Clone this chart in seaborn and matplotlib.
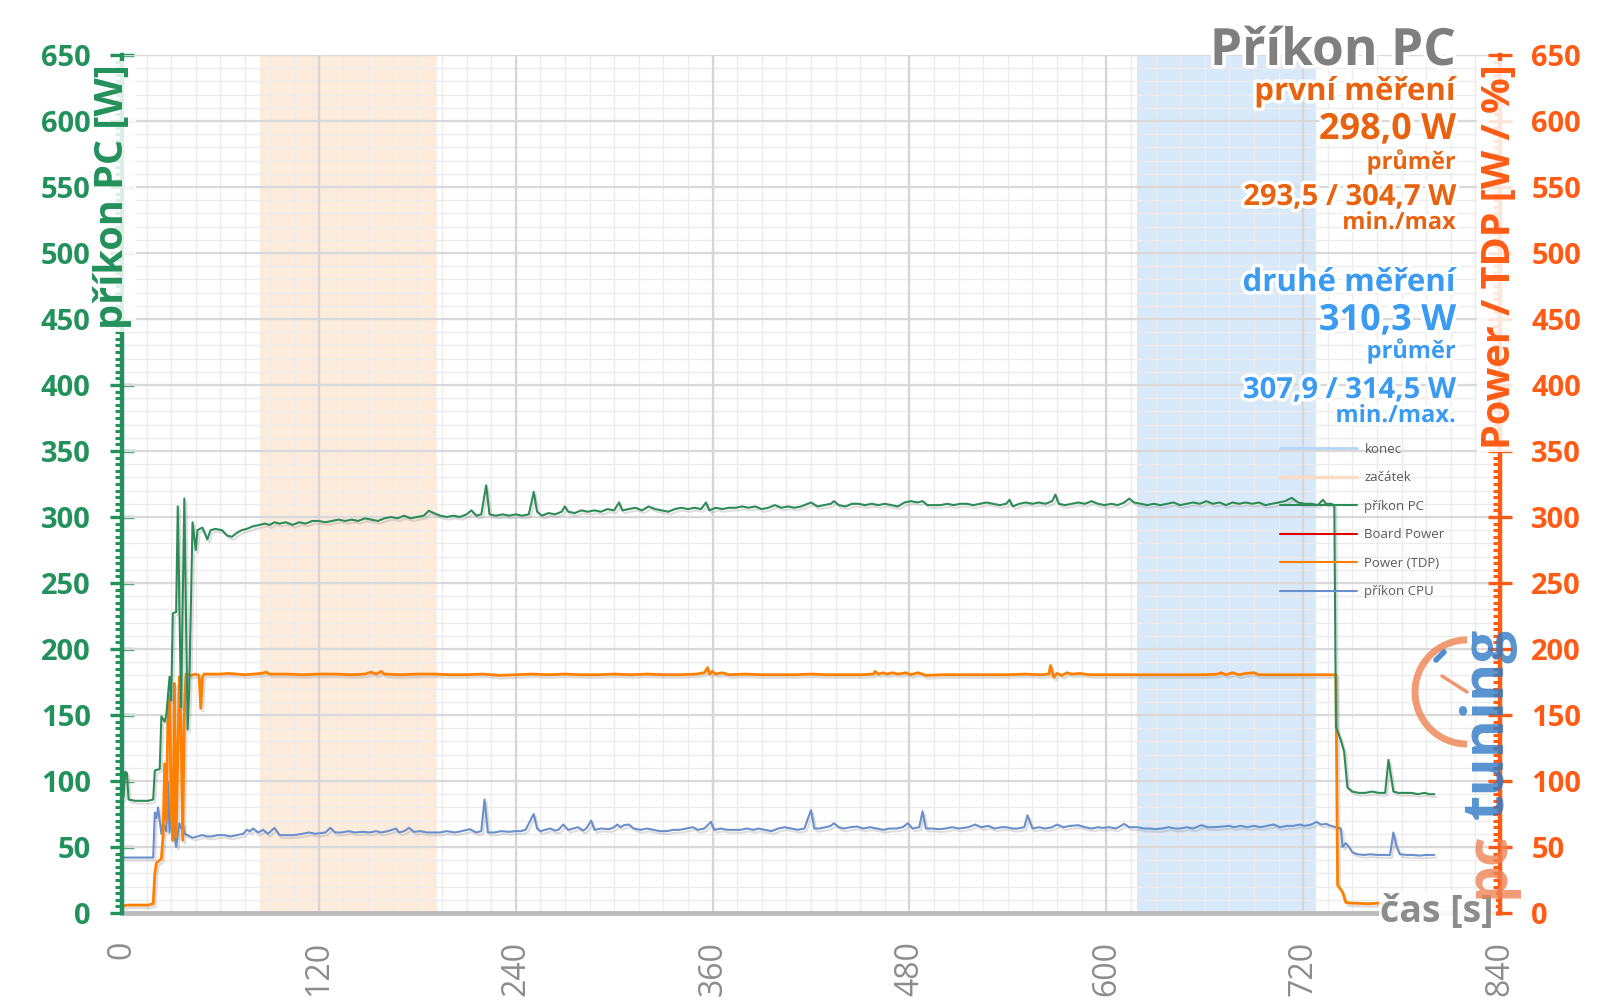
import numpy as np
import pandas as pd
import matplotlib
matplotlib.use("Agg")
import matplotlib.pyplot as plt
import seaborn as sns
from matplotlib.lines import Line2D
from matplotlib.patches import Arc
from matplotlib.ticker import MultipleLocator
import matplotlib.patheffects as pe

# ---------------- data ----------------
t_pc = [0, 1, 2, 3, 4, 8, 12, 16, 19, 20,
        23, 24, 26, 27, 29, 30, 31, 33, 34, 36,
        38, 40, 41, 43, 45, 46, 49, 52, 54, 57,
        61, 64, 67, 70, 73, 76, 80, 84, 87, 90,
        93, 96, 100, 104, 108, 112, 116, 120, 124, 128,
        132, 136, 140, 144, 148, 152, 156, 160, 164, 168,
        172, 176, 180, 184, 187, 190, 194, 198, 202, 206,
        210, 213, 216, 219, 222, 224, 228, 232, 236, 240,
        244, 248, 251, 253, 256, 260, 264, 268, 270, 272,
        276, 280, 284, 288, 292, 296, 300, 303, 305, 309,
        313, 317, 321, 325, 329, 333, 337, 341, 345, 349,
        353, 356, 358, 362, 366, 370, 374, 378, 382, 386,
        390, 394, 398, 402, 406, 410, 414, 418, 420, 424,
        428, 432, 434, 437, 441, 445, 449, 453, 457, 461,
        465, 469, 473, 477, 481, 485, 488, 491, 495, 499,
        503, 507, 511, 515, 519, 523, 527, 531, 535, 539,
        541, 543, 547, 551, 555, 559, 563, 567, 569, 571,
        575, 579, 583, 587, 591, 595, 599, 603, 607, 611,
        614, 617, 621, 625, 629, 633, 637, 641, 645, 649,
        653, 657, 661, 665, 669, 673, 677, 681, 685, 689,
        693, 697, 701, 705, 709, 713, 717, 721, 725, 729,
        732, 734, 737, 739, 740, 743, 745, 747, 750, 754,
        758, 762, 766, 770, 772, 773, 775, 778, 782, 786,
        790, 794, 797, 800]
pc = [86, 88, 107, 106, 86, 85, 85, 85, 86, 108,
      109, 149, 145, 150, 179, 161, 227, 228, 308, 156,
      314, 139, 171, 296, 275, 290, 292, 283, 290, 291,
      290, 286, 285, 288, 290, 291, 293, 294, 295, 294,
      296, 295, 296, 294, 296, 295, 297, 297, 296, 297,
      298, 297, 298, 297, 299, 298, 297, 299, 300, 299,
      301, 299, 300, 301, 304.7, 303, 301, 300, 301, 300,
      302, 305, 301, 302, 324, 302, 301, 302, 301, 302,
      301, 302, 319, 304, 301, 303, 302, 304, 308, 304,
      303, 305, 304, 305, 304, 306, 305, 311, 305, 306,
      307, 305, 308, 306, 305, 304, 306, 307, 306, 307,
      306, 311, 305, 307, 306, 307, 307, 308, 307, 308,
      306, 307, 309, 307, 308, 307, 308, 310, 311, 308,
      309, 310, 312, 309, 308, 310, 310, 309, 310, 309,
      310, 309, 308, 311, 312, 311, 312, 309, 309, 309,
      310, 309, 310, 310, 309, 310, 311, 310, 309, 310,
      313, 308, 310, 311, 310, 311, 310, 312, 317, 310,
      309, 310, 311, 310, 312, 310, 309, 310, 309, 311,
      314, 311, 310, 309, 310, 309, 310, 311, 309, 310,
      311, 310, 312, 310, 311, 309, 311, 310, 311, 310,
      311, 309, 310, 311, 312, 314.5, 311, 310, 310, 309,
      313, 310, 310, 309, 141, 131, 122, 95, 92, 91,
      91, 92, 91, 91, 116, 108, 92, 91, 91, 91,
      90, 91, 90, 90]

t_tdp = [0, 3, 8, 12, 16, 19, 20, 21, 23, 24,
         25, 26, 27, 28, 29, 30, 31, 32, 33, 34,
         35, 36, 37, 38, 39, 42, 45, 47, 48, 49,
         50, 55, 60, 65, 70, 75, 80, 85, 88, 90,
         95, 100, 110, 120, 130, 140, 148, 152, 155, 158,
         160, 170, 180, 190, 200, 210, 220, 230, 240, 250,
         260, 270, 280, 290, 300, 310, 320, 330, 340, 350,
         355, 357, 358, 360, 362, 366, 370, 380, 390, 400,
         410, 420, 430, 440, 450, 458, 459, 461, 464, 466,
         470, 473, 478, 481, 485, 488, 490, 500, 510, 520,
         530, 540, 550, 560, 565, 566, 568, 570, 573, 576,
         579, 584, 590, 600, 610, 620, 630, 640, 650, 660,
         668, 670, 673, 677, 681, 685, 690, 693, 700, 710,
         720, 730, 740, 741, 744, 746, 750, 760, 766, 773]
tdp = [5, 6, 6, 6, 6, 7, 30, 38, 40, 41,
       58, 113, 70, 150, 165, 80, 55, 174, 58, 120,
       179, 140, 55, 150, 181, 180, 181, 180, 155, 178,
       181, 181, 181, 181.5, 181, 180.5, 181, 181.5, 182.5, 181,
       181, 181, 180.5, 181, 181, 180.5, 181, 182.5, 181, 183,
       181, 180.5, 181, 181, 180.5, 180.5, 181, 180, 180.5, 181,
       180.5, 181, 180.5, 180.5, 181, 180.5, 181, 180.5, 180.5, 181,
       182, 186, 181, 183, 181, 182, 180.5, 181, 180.5, 180.5,
       180.5, 181, 180.5, 180.5, 180.5, 181, 183, 181, 182, 181,
       182, 181, 182, 180.5, 182, 181, 180, 180.5, 180.5, 180.5,
       180.5, 180.5, 181, 180.5, 181, 187.5, 178.5, 181.5, 180, 182,
       181, 181.5, 180.5, 180.5, 180.5, 180.5, 180.5, 180.5, 180.5, 180.5,
       181, 182, 180.5, 182, 180.5, 181.5, 182, 180.5, 180.5, 180.5,
       180.5, 180.5, 180.5, 21, 16, 8, 7.5, 7, 7.5, 7]

t_cpu = [0, 5, 10, 15, 19, 20, 21, 22, 24, 25,
         27, 28, 29, 31, 32, 33, 35, 36, 37, 38,
         40, 43, 46, 49, 52, 55, 58, 62, 66, 70,
         74, 76, 78, 80, 83, 86, 89, 93, 96, 100,
         105, 110, 114, 118, 121, 124, 127, 130, 134, 138,
         142, 147, 151, 155, 158, 162, 167, 169, 172, 175,
         178, 182, 186, 190, 194, 198, 203, 207, 212, 216,
         219, 221, 223, 227, 231, 236, 240, 243, 246, 251,
         253, 255, 258, 261, 264, 266, 269, 272, 275, 278,
         281, 283, 286, 288, 292, 297, 300, 302, 304, 306,
         309, 312, 316, 320, 324, 328, 332, 336, 340, 344,
         348, 351, 355, 359, 361, 365, 369, 373, 377, 381,
         385, 388, 392, 396, 400, 404, 408, 412, 416, 420,
         422, 425, 429, 432, 434, 437, 440, 444, 448, 452,
         456, 460, 464, 468, 472, 476, 479, 482, 486, 488,
         490, 494, 498, 502, 506, 510, 513, 516, 520, 524,
         528, 532, 536, 539, 543, 546, 550, 552, 555, 559,
         563, 567, 570, 574, 578, 583, 587, 591, 595, 598,
         602, 606, 611, 614, 619, 623, 627, 630, 634, 638,
         642, 645, 649, 653, 658, 662, 666, 671, 675, 678,
         682, 686, 690, 694, 698, 702, 706, 710, 714, 718,
         721, 725, 728, 731, 734, 737, 740, 743, 744, 746,
         748, 750, 753, 757, 761, 765, 769, 773, 775, 777,
         779, 783, 787, 791, 795, 800]
cpu = [42, 42, 42, 42, 42, 76, 72, 80, 60, 68,
       62, 99, 61, 93, 60, 50, 68, 64, 68, 60,
       59, 57, 58, 59, 58, 58, 59, 59, 58, 59,
       60, 63, 62, 64, 61, 63, 60, 64.5, 59, 59,
       59, 60, 61, 60, 60.5, 61, 64.5, 61, 61, 62,
       61, 61.5, 61, 62, 61, 62, 64, 61, 62, 64.5,
       61.5, 62, 61, 61, 61, 62, 61, 62, 63.5, 61,
       62, 86, 61, 61, 62, 61.5, 62, 62, 63, 75,
       64, 62, 63, 64, 62.5, 63, 67, 63, 64, 65,
       62.5, 64, 70, 63, 64, 63.5, 65, 67, 65, 66.5,
       67, 64, 63, 64, 63, 62, 62, 63, 63, 64,
       65, 63, 64, 69, 63, 64, 63, 63, 63, 64,
       63, 64, 63, 62, 64, 65, 64, 63, 64, 78,
       64, 64, 65, 66, 68, 65, 64, 65, 65.5, 64,
       65, 64, 63, 64, 64, 65, 68, 64, 65, 77,
       64, 64, 63.5, 64, 65, 64, 64.5, 65, 67, 65,
       66, 64, 65, 65, 64, 64, 65, 74, 64, 65,
       64, 65, 67, 65, 66, 66.5, 65, 64, 65, 64.5,
       65, 64, 67.5, 65, 65, 64, 64, 63.5, 64, 65,
       64, 64, 65, 64, 66.5, 65, 65, 65.5, 66, 65,
       66, 65, 66, 65, 66, 67, 65, 66, 66, 67,
       66, 67, 69, 67, 67.5, 66, 65, 64, 50, 53,
       50, 46, 44.5, 44, 44.5, 44, 44, 44, 61, 50,
       44.5, 44, 44, 43.5, 44, 44]

start_band = [84, 192]     # "začátek"
end_band = [619, 728]      # "konec"

x_ticks = [0, 120, 240, 360, 480, 600, 720, 840]
y_ticks = list(range(0, 651, 50))

legend_labels = ["konec", "začátek", "příkon PC", "Board Power", "Power (TDP)", "příkon CPU"]

title = "Příkon PC"
first_name, first_avg, first_minmax = "první měření", "298,0 W", "293,5 / 304,7 W"
second_name, second_avg, second_minmax = "druhé měření", "310,3 W", "307,9 / 314,5 W"

assert len(t_pc) == len(pc) and len(t_tdp) == len(tdp) and len(t_cpu) == len(cpu)

# ---------------- style ----------------
GREEN_AX = "#23915c"
GREEN_LINE = "#2e8b57"
ORANGE_AX = "#ff5b14"
ORANGE_TXT = "#e8630f"
ORANGE_LINE = "#ff8000"
BLUE_LINE = "#6b8fca"
BLUE_TXT = "#3a9bf0"
GRAY = "#8c8c8c"

sns.set_theme(style="white")
plt.rcParams['font.family'] = ['Open Sans', 'DejaVu Sans']

W, H = 1600, 1008
fig = plt.figure(figsize=(W / 100, H / 100), dpi=100)
L, R, B, T = 122, 1500, 913, 55
ax = fig.add_axes([L / W, 1 - B / H, (R - L) / W, (B - T) / H])
ax.set_xlim(0, 840)
ax.set_ylim(0, 650)

# bands
ax.axvspan(*start_band, color="#fbd3b0", alpha=0.45, lw=0, zorder=0.5)
ax.axvspan(*end_band, color="#a9cff5", alpha=0.45, lw=0, zorder=0.5)

# grid
ax.hlines(np.arange(0, 651, 10), 0, 840, color="#ececec", lw=1.0, zorder=0.6)
ax.vlines(np.arange(0, 841, 15), 0, 650, color="#ececec", lw=1.0, zorder=0.6)
ax.hlines(y_ticks, 0, 840, color="#d9d9d9", lw=1.6, zorder=0.7)
ax.vlines(x_ticks, 0, 650, color="#d6d6d6", lw=1.6, zorder=0.7)

shadow = [pe.SimpleLineShadow(offset=(1.5, -2), shadow_color="#7f7f7f", alpha=0.25), pe.Normal()]

sns.lineplot(data=pd.DataFrame({"t": t_cpu, "v": cpu}), x="t", y="v", ax=ax,
             color=BLUE_LINE, lw=1.5, zorder=4, path_effects=shadow, legend=False)
sns.lineplot(data=pd.DataFrame({"t": t_tdp, "v": tdp}), x="t", y="v", ax=ax,
             color=ORANGE_LINE, lw=2.0, zorder=5, path_effects=shadow, legend=False)
sns.lineplot(data=pd.DataFrame({"t": t_pc, "v": pc}), x="t", y="v", ax=ax,
             color=GREEN_LINE, lw=1.5, zorder=6, path_effects=shadow, legend=False)
ax.set_xlabel("")
ax.set_ylabel("")

# spines
for s in ["top", "right"]:
    ax.spines[s].set_visible(False)
ax.spines["left"].set_color(GREEN_AX)
ax.spines["left"].set_linewidth(3.2)
ax.spines["bottom"].set_color("#bdbdbd")
ax.spines["bottom"].set_linewidth(3.5)
ax.spines["left"].set_zorder(7)

ax.set_xticks(x_ticks, labels=[str(v) for v in x_ticks], rotation=90,
              fontsize=23, color=GRAY)
ax.tick_params(axis="x", direction="out", length=7, width=2.8, color="#bdbdbd", pad=13)

ax.set_yticks(y_ticks, labels=[str(v) for v in y_ticks], fontsize=21,
              fontweight="bold", color=GREEN_AX)
ax.yaxis.set_minor_locator(MultipleLocator(5))
ax.tick_params(axis="y", which="major", direction="inout", length=17, width=2.4,
               color=GREEN_AX, pad=14)
ax.tick_params(axis="y", which="minor", direction="out", length=5, width=2.2,
               color=GREEN_AX, left=True)

ax2 = ax.twinx()
ax2.set_ylim(0, 650)
for s in ["top", "left", "bottom"]:
    ax2.spines[s].set_visible(False)
ax2.spines["right"].set_color(ORANGE_AX)
ax2.spines["right"].set_linewidth(3.2)
ax2.set_yticks(y_ticks, labels=[str(v) for v in y_ticks], fontsize=21,
               fontweight="bold", color=ORANGE_AX)
ax2.yaxis.set_minor_locator(MultipleLocator(5))
ax2.tick_params(axis="y", which="major", direction="inout", length=17, width=2.4,
                color=ORANGE_AX, pad=14)
ax2.tick_params(axis="y", which="minor", direction="in", length=5, width=2.2,
                color=ORANGE_AX, right=True)
ax2.grid(False)
ax.grid(False)

# ---------------- decorations (figure pixel coordinates) ----------------
deco = fig.add_axes([0, 0, 1, 1], facecolor="none")
deco.set_xlim(0, W)
deco.set_ylim(H, 0)
deco.axis("off")

halo = [pe.withStroke(linewidth=5, foreground="white")]
wbox = dict(boxstyle="square,pad=0.08", fc="white", ec="none", alpha=0.85)

deco.text(113, 64, "příkon PC [W]", rotation=90, ha="center", va="top", fontsize=28.5,
          fontweight="bold", color=GREEN_AX, bbox=wbox)
deco.text(1500, 64, "Power / TDP [W / %]", rotation=90, ha="center", va="top", fontsize=28.5,
          fontweight="bold", color=ORANGE_AX, bbox=wbox)
deco.text(1494, 912, "čas [s]", ha="right", va="center", fontsize=27,
          fontweight="bold", color=GRAY,
          bbox=dict(boxstyle="square,pad=0.05", fc="white", ec="none", alpha=0.9))

# pctuning watermark
deco.add_patch(Arc((1467, 692), 104, 104, theta1=90, theta2=270, lw=5, color="#ef8354",
                   alpha=0.8, zorder=8))
deco.plot([1467, 1442], [692, 676], color="#ef8354", lw=2.5, alpha=0.85, zorder=8)
deco.plot([1436, 1444], [660, 652], color="#2f7ac6", lw=4, alpha=0.85, zorder=8)
deco.text(1488, 898, "pc", rotation=90, ha="center", va="bottom", fontsize=42,
          fontweight="bold", color="#ef8354", alpha=0.8, zorder=8)
deco.text(1488, 819, "tuning", rotation=90, ha="center", va="bottom", fontsize=42,
          fontweight="bold", color="#2f7ac6", alpha=0.8, zorder=8)

# title and statistics
XR = 1456
def rtext(y, s, size, color):
    deco.text(XR, y, s, ha="right", va="baseline", fontsize=size, fontweight="bold",
              color=color, path_effects=halo, zorder=9)

rtext(65, title, 37, "#7f7f7f")
rtext(100, first_name, 22.5, ORANGE_TXT)
rtext(139, first_avg, 26, ORANGE_TXT)
rtext(169, "průměr", 17, ORANGE_TXT)
rtext(205, first_minmax, 21, ORANGE_TXT)
rtext(229, "min./max", 17, ORANGE_TXT)
rtext(291, second_name, 22.5, BLUE_TXT)
rtext(330, second_avg, 26, BLUE_TXT)
rtext(358, "průměr", 17, BLUE_TXT)
rtext(398, second_minmax, 21, BLUE_TXT)
rtext(422, "min./max.", 17, BLUE_TXT)

# legend
handles = [Line2D([], [], color="#b7d6f6", lw=2),
           Line2D([], [], color="#fbdcc4", lw=2.5),
           Line2D([], [], color=GREEN_LINE, lw=1.5),
           Line2D([], [], color="#e00000", lw=1.5),
           Line2D([], [], color=ORANGE_LINE, lw=1.5),
           Line2D([], [], color=BLUE_LINE, lw=1.5)]
leg = deco.legend(handles, legend_labels, loc="upper left",
                  bbox_to_anchor=(1280 / W, 1 - 443 / H), bbox_transform=fig.transFigure,
                  frameon=False, fontsize=9.5, handlelength=5.8, handletextpad=0.6,
                  labelspacing=1.17, borderpad=0, borderaxespad=0)
for txt in leg.get_texts():
    txt.set_color("#595959")

fig.savefig("out.png", dpi=100, facecolor="white")
